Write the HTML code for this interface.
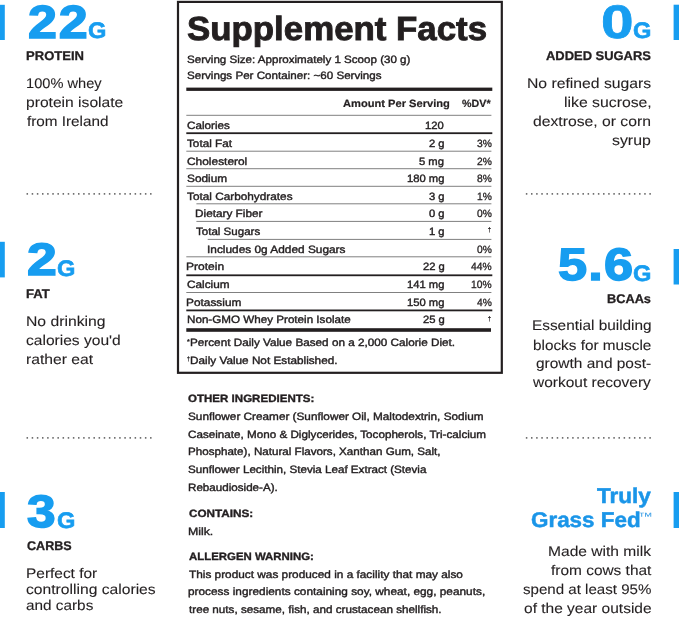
<!DOCTYPE html>
<html lang="en">
<head>
<meta charset="utf-8">
<title>Supplement Facts</title>
<style>
html,body{margin:0;padding:0;background:#fff;}
body{width:679px;height:617px;position:relative;overflow:hidden;font-family:"Liberation Sans", sans-serif;color:#231f20;}
.t{position:absolute;text-rendering:geometricPrecision;white-space:nowrap;line-height:1;margin:0;padding:0;transform-origin:0 0;}
.bg{position:absolute;left:0;top:0;}

</style>
</head>
<body>
<svg class="bg" width="679" height="617" viewBox="0 0 679 617" aria-hidden="true">
<rect x="178" y="1.9" width="323.8" height="370.9" fill="none" stroke="#231f20" stroke-width="2.2"/>
<rect x="0" y="4.8" width="4.8" height="35.2" fill="#179df0"/>
<rect x="0" y="241.8" width="4.8" height="35.6" fill="#179df0"/>
<rect x="0" y="492" width="4.8" height="36" fill="#179df0"/>
<rect x="673.6" y="4.7" width="5.4" height="35.3" fill="#179df0"/>
<rect x="673.6" y="249" width="5.4" height="35.5" fill="#179df0"/>
<rect x="673.6" y="492" width="5.4" height="36" fill="#179df0"/>
<rect x="186.3" y="87.6" width="306" height="3.3" fill="#231f20"/>
<rect x="186.3" y="114.8" width="305.1" height="1" fill="#808080"/>
<rect x="186.3" y="132.3" width="306" height="1.8" fill="#231f20"/>
<rect x="186.3" y="150.7" width="305.1" height="1" fill="#808080"/>
<rect x="186.3" y="168.2" width="305.1" height="1" fill="#808080"/>
<rect x="186.3" y="185.8" width="305.1" height="1" fill="#808080"/>
<rect x="196.4" y="203.3" width="295" height="1" fill="#808080"/>
<rect x="196.4" y="220.9" width="295" height="1" fill="#808080"/>
<rect x="207.7" y="238.9" width="283.7" height="1" fill="#808080"/>
<rect x="186.3" y="256.3" width="305.1" height="1" fill="#808080"/>
<rect x="186.3" y="274.4" width="306" height="1.8" fill="#231f20"/>
<rect x="186.3" y="292" width="305.1" height="1" fill="#808080"/>
<rect x="186.3" y="309.5" width="306" height="1.8" fill="#231f20"/>
<rect x="186.3" y="328.2" width="304.7" height="3.6" fill="#231f20"/>
<line x1="26.55" y1="193.9" x2="151.564" y2="193.9" stroke="#707070" stroke-width="1.7" stroke-dasharray="1.5 3.646"/>
<line x1="26.55" y1="437.9" x2="151.564" y2="437.9" stroke="#707070" stroke-width="1.7" stroke-dasharray="1.5 3.646"/>
<line x1="525.85" y1="193.9" x2="650.864" y2="193.9" stroke="#707070" stroke-width="1.7" stroke-dasharray="1.5 3.646"/>
<line x1="525.85" y1="437.9" x2="650.864" y2="437.9" stroke="#707070" stroke-width="1.7" stroke-dasharray="1.5 3.646"/>
</svg>
<section class="stat protein">
<div id="t0" class="t" style="left:27.96px;top:-1px;font-size:46.4px;font-weight:700;color:#179df0;-webkit-text-stroke:1.5px currentColor;letter-spacing:1.6px;transform:scaleX(1.1220);">22</div>
<div id="t1" class="t" style="left:88.11px;top:20px;font-size:22.4px;font-weight:700;color:#179df0;-webkit-text-stroke:0.6px currentColor;transform:scaleX(1.0542);">G</div>
<div id="t2" class="t" style="left:25.95px;top:50px;font-size:12.6px;font-weight:700;-webkit-text-stroke:0.3px currentColor;transform:scaleX(1.0362);">PROTEIN</div>
<div id="t3" class="t" style="left:25.56px;top:76px;font-size:14px;-webkit-text-stroke:0.1px currentColor;transform:scaleX(1.0442);">100% whey</div>
<div id="t4" class="t" style="left:25.96px;top:95px;font-size:14px;-webkit-text-stroke:0.1px currentColor;transform:scaleX(1.1160);">protein isolate</div>
<div id="t5" class="t" style="left:26.80px;top:114px;font-size:14px;-webkit-text-stroke:0.1px currentColor;transform:scaleX(1.0905);">from Ireland</div>
</section>
<section class="stat fat">
<div id="t6" class="t" style="left:27.12px;top:237px;font-size:45.6px;font-weight:700;color:#179df0;-webkit-text-stroke:1.5px currentColor;transform:scaleX(1.1746);">2</div>
<div id="t7" class="t" style="left:57.41px;top:258px;font-size:22.4px;font-weight:700;color:#179df0;-webkit-text-stroke:0.6px currentColor;transform:scaleX(1.0542);">G</div>
<div id="t8" class="t" style="left:26.12px;top:288px;font-size:12.6px;font-weight:700;-webkit-text-stroke:0.3px currentColor;transform:scaleX(1.0382);">FAT</div>
<div id="t9" class="t" style="left:25.88px;top:314px;font-size:14px;-webkit-text-stroke:0.1px currentColor;transform:scaleX(1.1232);">No drinking</div>
<div id="t10" class="t" style="left:26.36px;top:333px;font-size:14px;-webkit-text-stroke:0.1px currentColor;transform:scaleX(1.1122);">calories you'd</div>
<div id="t11" class="t" style="left:26.09px;top:352px;font-size:14px;-webkit-text-stroke:0.1px currentColor;transform:scaleX(1.1197);">rather eat</div>
</section>
<section class="stat carbs">
<div id="t12" class="t" style="left:27.36px;top:489px;font-size:45.6px;font-weight:700;color:#179df0;-webkit-text-stroke:1.5px currentColor;transform:scaleX(1.1285);">3</div>
<div id="t13" class="t" style="left:57.41px;top:510px;font-size:22.4px;font-weight:700;color:#179df0;-webkit-text-stroke:0.6px currentColor;transform:scaleX(1.0542);">G</div>
<div id="t14" class="t" style="left:26.65px;top:540px;font-size:12.6px;font-weight:700;-webkit-text-stroke:0.3px currentColor;transform:scaleX(0.9966);">CARBS</div>
<div id="t15" class="t" style="left:25.90px;top:566px;font-size:14px;-webkit-text-stroke:0.1px currentColor;transform:scaleX(1.1024);">Perfect for</div>
<div id="t16" class="t" style="left:26.43px;top:582px;font-size:14px;-webkit-text-stroke:0.1px currentColor;transform:scaleX(1.1181);">controlling calories</div>
<div id="t17" class="t" style="left:26.39px;top:598px;font-size:14px;-webkit-text-stroke:0.1px currentColor;transform:scaleX(1.0948);">and carbs</div>
</section>
<section class="stat sugars">
<div id="t18" class="t" style="left:601.25px;top:-2px;font-size:47px;font-weight:700;color:#179df0;-webkit-text-stroke:0.7px currentColor;transform:scaleX(1.2464);">0</div>
<div id="t19" class="t" style="left:633.41px;top:20px;font-size:22.4px;font-weight:700;color:#179df0;-webkit-text-stroke:0.6px currentColor;transform:scaleX(1.0542);">G</div>
<div id="t20" class="t" style="left:546.40px;top:50px;font-size:12.6px;font-weight:700;-webkit-text-stroke:0.3px currentColor;transform:scaleX(1.0269);">ADDED SUGARS</div>
<div id="t21" class="t" style="left:526.68px;top:76px;font-size:14px;-webkit-text-stroke:0.1px currentColor;transform:scaleX(1.1239);">No refined sugars</div>
<div id="t22" class="t" style="left:564.09px;top:95px;font-size:14px;-webkit-text-stroke:0.1px currentColor;transform:scaleX(1.1279);">like sucrose,</div>
<div id="t23" class="t" style="left:533.44px;top:114px;font-size:14px;-webkit-text-stroke:0.1px currentColor;transform:scaleX(1.1225);">dextrose, or corn</div>
<div id="t24" class="t" style="left:611.81px;top:133px;font-size:14px;-webkit-text-stroke:0.1px currentColor;transform:scaleX(1.1322);">syrup</div>
</section>
<section class="stat bcaas">
<div id="t25" class="t" style="left:558.43px;top:242px;font-size:45.6px;font-weight:700;color:#179df0;-webkit-text-stroke:1.5px currentColor;letter-spacing:1px;transform:scaleX(1.1472);">5.6</div>
<div id="t26" class="t" style="left:633.41px;top:263px;font-size:22.4px;font-weight:700;color:#179df0;-webkit-text-stroke:0.6px currentColor;transform:scaleX(1.0542);">G</div>
<div id="t27" class="t" style="left:607.24px;top:293px;font-size:12.6px;font-weight:700;-webkit-text-stroke:0.3px currentColor;transform:scaleX(1.0130);">BCAAs</div>
<div id="t28" class="t" style="left:532.05px;top:318px;font-size:14px;-webkit-text-stroke:0.1px currentColor;transform:scaleX(1.0977);">Essential building</div>
<div id="t29" class="t" style="left:532.98px;top:338px;font-size:14px;-webkit-text-stroke:0.1px currentColor;transform:scaleX(1.0941);">blocks for muscle</div>
<div id="t30" class="t" style="left:535.79px;top:356px;font-size:14px;-webkit-text-stroke:0.1px currentColor;transform:scaleX(1.1040);">growth and post-</div>
<div id="t31" class="t" style="left:532.73px;top:375px;font-size:14px;-webkit-text-stroke:0.1px currentColor;transform:scaleX(1.1052);">workout recovery</div>
</section>
<section class="stat grassfed">
<div id="t32" class="t" style="left:597.22px;top:486px;font-size:21.3px;font-weight:700;color:#1a95e8;-webkit-text-stroke:0.5px currentColor;transform:scaleX(1.0585);">Truly</div>
<div id="t33" class="t" style="left:531.21px;top:510px;font-size:21.3px;font-weight:700;color:#1a95e8;-webkit-text-stroke:0.5px currentColor;transform:scaleX(1.0523);">Grass Fed</div>
<div id="t34" class="t" style="left:638.05px;top:512px;font-size:10.7px;color:#3d9fe6;transform:scaleX(1.3934);">™</div>
<div id="t35" class="t" style="left:548.11px;top:544px;font-size:14px;-webkit-text-stroke:0.1px currentColor;transform:scaleX(1.1125);">Made with milk</div>
<div id="t36" class="t" style="left:550.52px;top:563px;font-size:14px;-webkit-text-stroke:0.1px currentColor;transform:scaleX(1.1025);">from cows that</div>
<div id="t37" class="t" style="left:522.73px;top:582px;font-size:14px;-webkit-text-stroke:0.1px currentColor;transform:scaleX(1.0785);">spend at least 95%</div>
<div id="t38" class="t" style="left:523.95px;top:601px;font-size:14px;-webkit-text-stroke:0.1px currentColor;transform:scaleX(1.1079);">of the year outside</div>
</section>
<section class="facts">
<div id="t39" class="t" style="left:187.43px;top:13px;font-size:33.4px;font-weight:700;-webkit-text-stroke:0.9px currentColor;transform:scaleX(1.0435);">Supplement Facts</div>
<div id="t40" class="t" style="left:186.73px;top:55px;font-size:10.6px;-webkit-text-stroke:0.4px currentColor;transform:scaleX(1.0934);">Serving Size: Approximately 1 Scoop (30 g)</div>
<div id="t41" class="t" style="left:186.73px;top:71px;font-size:10.6px;-webkit-text-stroke:0.4px currentColor;transform:scaleX(1.0960);">Servings Per Container: ~60 Servings</div>
<div id="t42" class="t" style="left:342.72px;top:99px;font-size:10.6px;font-weight:700;-webkit-text-stroke:0.2px currentColor;transform:scaleX(1.0495);">Amount Per Serving</div>
<div id="t43" class="t" style="left:462.08px;top:99px;font-size:10.6px;font-weight:700;-webkit-text-stroke:0.2px currentColor;transform:scaleX(1.0100);">%DV*</div>
<div id="t44" class="t" style="left:186.92px;top:121px;font-size:10.6px;-webkit-text-stroke:0.4px currentColor;transform:scaleX(1.1013);">Calories</div>
<div id="t45" class="t" style="left:425.45px;top:121px;font-size:10.6px;-webkit-text-stroke:0.4px currentColor;transform:scaleX(1.0600);">120</div>
<div id="t46" class="t" style="left:187.32px;top:139px;font-size:10.6px;-webkit-text-stroke:0.4px currentColor;transform:scaleX(1.1064);">Total Fat</div>
<div id="t47" class="t" style="left:428.89px;top:139px;font-size:10.6px;-webkit-text-stroke:0.4px currentColor;transform:scaleX(1.0600);">2 g</div>
<div id="t48" class="t" style="left:476.75px;top:139px;font-size:10.6px;-webkit-text-stroke:0.3px currentColor;transform:scaleX(0.9700);">3%</div>
<div id="t49" class="t" style="left:186.85px;top:157px;font-size:10.6px;-webkit-text-stroke:0.4px currentColor;transform:scaleX(1.1245);">Cholesterol</div>
<div id="t50" class="t" style="left:419.07px;top:157px;font-size:10.6px;-webkit-text-stroke:0.4px currentColor;transform:scaleX(1.0600);">5 mg</div>
<div id="t51" class="t" style="left:476.75px;top:157px;font-size:10.6px;-webkit-text-stroke:0.3px currentColor;transform:scaleX(0.9700);">2%</div>
<div id="t52" class="t" style="left:186.92px;top:174px;font-size:10.6px;-webkit-text-stroke:0.4px currentColor;transform:scaleX(1.1177);">Sodium</div>
<div id="t53" class="t" style="left:407.17px;top:174px;font-size:10.6px;-webkit-text-stroke:0.4px currentColor;transform:scaleX(1.0600);">180 mg</div>
<div id="t54" class="t" style="left:476.75px;top:174px;font-size:10.6px;-webkit-text-stroke:0.3px currentColor;transform:scaleX(0.9700);">8%</div>
<div id="t55" class="t" style="left:187.20px;top:192px;font-size:10.6px;-webkit-text-stroke:0.4px currentColor;transform:scaleX(1.1132);">Total Carbohydrates</div>
<div id="t56" class="t" style="left:428.89px;top:192px;font-size:10.6px;-webkit-text-stroke:0.4px currentColor;transform:scaleX(1.0600);">3 g</div>
<div id="t57" class="t" style="left:476.75px;top:192px;font-size:10.6px;-webkit-text-stroke:0.3px currentColor;transform:scaleX(0.9700);">1%</div>
<div id="t58" class="t" style="left:194.96px;top:209px;font-size:10.6px;-webkit-text-stroke:0.4px currentColor;transform:scaleX(1.1125);">Dietary Fiber</div>
<div id="t59" class="t" style="left:428.89px;top:209px;font-size:10.6px;-webkit-text-stroke:0.4px currentColor;transform:scaleX(1.0600);">0 g</div>
<div id="t60" class="t" style="left:476.75px;top:209px;font-size:10.6px;-webkit-text-stroke:0.3px currentColor;transform:scaleX(0.9700);">0%</div>
<div id="t61" class="t" style="left:195.91px;top:227px;font-size:10.6px;-webkit-text-stroke:0.4px currentColor;transform:scaleX(1.0897);">Total Sugars</div>
<div id="t62" class="t" style="left:428.89px;top:227px;font-size:10.6px;-webkit-text-stroke:0.4px currentColor;transform:scaleX(1.0600);">1 g</div>
<div id="t63" class="t" style="left:488.00px;top:228px;font-size:6.8px;-webkit-text-stroke:0.3px currentColor;transform:scaleX(0.7650);">†</div>
<div id="t64" class="t" style="left:206.70px;top:245px;font-size:10.6px;-webkit-text-stroke:0.4px currentColor;transform:scaleX(1.1197);">Includes 0g Added Sugars</div>
<div id="t65" class="t" style="left:476.75px;top:245px;font-size:10.6px;-webkit-text-stroke:0.3px currentColor;transform:scaleX(0.9700);">0%</div>
<div id="t66" class="t" style="left:185.75px;top:262px;font-size:10.6px;-webkit-text-stroke:0.4px currentColor;transform:scaleX(1.1338);">Protein</div>
<div id="t67" class="t" style="left:422.54px;top:262px;font-size:10.6px;-webkit-text-stroke:0.4px currentColor;transform:scaleX(1.0600);">22 g</div>
<div id="t68" class="t" style="left:470.93px;top:262px;font-size:10.6px;-webkit-text-stroke:0.3px currentColor;transform:scaleX(0.9700);">44%</div>
<div id="t69" class="t" style="left:186.92px;top:280px;font-size:10.6px;-webkit-text-stroke:0.4px currentColor;transform:scaleX(1.1147);">Calcium</div>
<div id="t70" class="t" style="left:407.17px;top:280px;font-size:10.6px;-webkit-text-stroke:0.4px currentColor;transform:scaleX(1.0600);">141 mg</div>
<div id="t71" class="t" style="left:470.93px;top:280px;font-size:10.6px;-webkit-text-stroke:0.3px currentColor;transform:scaleX(0.9700);">10%</div>
<div id="t72" class="t" style="left:185.95px;top:298px;font-size:10.6px;-webkit-text-stroke:0.4px currentColor;transform:scaleX(1.1193);">Potassium</div>
<div id="t73" class="t" style="left:407.17px;top:298px;font-size:10.6px;-webkit-text-stroke:0.4px currentColor;transform:scaleX(1.0600);">150 mg</div>
<div id="t74" class="t" style="left:476.75px;top:298px;font-size:10.6px;-webkit-text-stroke:0.3px currentColor;transform:scaleX(0.9700);">4%</div>
<div id="t75" class="t" style="left:186.78px;top:315px;font-size:10.6px;-webkit-text-stroke:0.4px currentColor;transform:scaleX(1.0986);">Non-GMO Whey Protein Isolate</div>
<div id="t76" class="t" style="left:422.54px;top:315px;font-size:10.6px;-webkit-text-stroke:0.4px currentColor;transform:scaleX(1.0600);">25 g</div>
<div id="t77" class="t" style="left:488.00px;top:317px;font-size:6.8px;-webkit-text-stroke:0.3px currentColor;transform:scaleX(0.7650);">†</div>
<div id="t78" class="t" style="left:187.41px;top:339px;font-size:7px;-webkit-text-stroke:0.3px currentColor;transform:scaleX(1.0141);">*</div>
<div id="t79" class="t" style="left:189.77px;top:338px;font-size:10.6px;-webkit-text-stroke:0.4px currentColor;transform:scaleX(1.1071);">Percent Daily Value Based on a 2,000 Calorie Diet.</div>
<div id="t80" class="t" style="left:186.70px;top:357px;font-size:6.4px;-webkit-text-stroke:0.3px currentColor;transform:scaleX(0.8000);">†</div>
<div id="t81" class="t" style="left:189.77px;top:356px;font-size:10.6px;-webkit-text-stroke:0.4px currentColor;transform:scaleX(1.1101);">Daily Value Not Established.</div>
</section>
<section class="ingredients">
<div id="t82" class="t" style="left:188.00px;top:394px;font-size:10.6px;font-weight:700;-webkit-text-stroke:0.35px currentColor;transform:scaleX(1.0895);">OTHER INGREDIENTS:</div>
<div id="t83" class="t" style="left:187.88px;top:412px;font-size:10.6px;-webkit-text-stroke:0.4px currentColor;transform:scaleX(1.1105);">Sunflower Creamer (Sunflower Oil, Maltodextrin, Sodium</div>
<div id="t84" class="t" style="left:187.87px;top:430px;font-size:10.6px;-webkit-text-stroke:0.4px currentColor;transform:scaleX(1.1011);">Caseinate, Mono &amp; Diglycerides, Tocopherols, Tri-calcium</div>
<div id="t85" class="t" style="left:187.98px;top:447px;font-size:10.6px;-webkit-text-stroke:0.4px currentColor;transform:scaleX(1.0968);">Phosphate), Natural Flavors, Xanthan Gum, Salt,</div>
<div id="t86" class="t" style="left:187.89px;top:465px;font-size:10.6px;-webkit-text-stroke:0.4px currentColor;transform:scaleX(1.0973);">Sunflower Lecithin, Stevia Leaf Extract (Stevia</div>
<div id="t87" class="t" style="left:187.98px;top:483px;font-size:10.6px;-webkit-text-stroke:0.4px currentColor;transform:scaleX(1.0966);">Rebaudioside-A).</div>
<div id="t88" class="t" style="left:188.77px;top:509px;font-size:10.6px;font-weight:700;-webkit-text-stroke:0.35px currentColor;transform:scaleX(1.1066);">CONTAINS:</div>
<div id="t89" class="t" style="left:187.73px;top:527px;font-size:10.6px;-webkit-text-stroke:0.4px currentColor;transform:scaleX(1.1614);">Milk.</div>
<div id="t90" class="t" style="left:188.80px;top:552px;font-size:10.6px;font-weight:700;-webkit-text-stroke:0.35px currentColor;transform:scaleX(1.0774);">ALLERGEN WARNING:</div>
<div id="t91" class="t" style="left:188.80px;top:570px;font-size:10.6px;-webkit-text-stroke:0.4px currentColor;transform:scaleX(1.1156);">This product was produced in a facility that may also</div>
<div id="t92" class="t" style="left:188.25px;top:587px;font-size:10.6px;-webkit-text-stroke:0.4px currentColor;transform:scaleX(1.1173);">process ingredients containing soy, wheat, egg, peanuts,</div>
<div id="t93" class="t" style="left:188.80px;top:605px;font-size:10.6px;-webkit-text-stroke:0.4px currentColor;transform:scaleX(1.1027);">tree nuts, sesame, fish, and crustacean shellfish.</div>
</section>
</body>
</html>
